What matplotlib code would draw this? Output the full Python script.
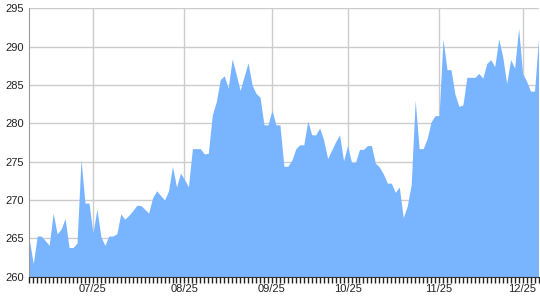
import numpy as np
import matplotlib
matplotlib.use('Agg')
import matplotlib.pyplot as plt

plt.rcParams['font.family'] = ['Liberation Sans', 'DejaVu Sans']

# values, one per trading day
price = [264.8, 261.7, 265.3, 265.3, 264.7, 264.1, 268.3, 265.6, 266.2, 267.6,
         263.8, 263.8, 264.4, 275.3, 269.6, 269.6, 265.7, 268.8, 265.2, 264.1,
         265.3, 265.3, 265.6, 268.2, 267.5, 268.0, 268.6, 269.3, 269.3, 268.8,
         268.3, 270.3, 271.2, 270.6, 270.0, 271.2, 274.4, 271.7, 273.5, 272.7,
         271.7, 276.7, 276.7, 276.7, 276.0, 276.1, 281.1, 282.8, 285.7, 286.2,
         284.6, 288.4, 286.4, 284.3, 286.1, 287.9, 285.0, 283.9, 283.4, 279.8,
         279.8, 281.7, 279.8, 279.8, 274.4, 274.4, 275.2, 276.7, 277.2, 277.2,
         280.3, 278.5, 278.5, 279.4, 277.8, 275.4, 276.5, 277.6, 278.5, 275.1,
         277.1, 274.9, 274.9, 276.6, 276.6, 277.1, 277.1, 274.8, 274.3, 273.4,
         272.2, 272.2, 271.0, 271.7, 267.7, 269.2, 272.0, 283.0, 276.7, 276.7,
         278.0, 280.2, 281.0, 281.0, 291.0, 287.0, 287.0, 283.8, 282.2, 282.4,
         286.0, 286.0, 286.0, 286.5, 285.9, 287.8, 288.3, 287.4, 291.0, 288.7,
         285.2, 288.3, 287.2, 292.4, 286.5, 285.5, 284.2, 284.2, 291.0]
month_idx = [16, 39, 61, 80, 103, 124]
month_labels = ['07/25', '08/25', '09/25', '10/25', '11/25', '12/25']
y_ticks = [260, 265, 270, 275, 280, 285, 290, 295]

x = np.arange(len(price))

fig = plt.figure(figsize=(5.4, 3.0), dpi=100)
ax = fig.add_axes([29.3/540, 23.3/300, 509.2/540, 268.4/300])

ax.fill_between(x, 260, price, color='#78b4ff', lw=0, zorder=2)

ax.set_xlim(0, len(price) - 1)
ax.set_ylim(260, 295)
ax.set_yticks(y_ticks)
ax.set_xticks(month_idx)
ax.set_xticklabels(month_labels)
ax.set_xticks(x, minor=True)

ax.grid(True, which='major', color='#cccccc', lw=1, zorder=0)
ax.set_axisbelow(True)

for s in ['top', 'right']:
    ax.spines[s].set_visible(False)
ax.spines['left'].set_color('#999999')
ax.spines['bottom'].set_color('#333333')

ax.tick_params(axis='y', length=0, pad=4, labelsize=8, labelcolor='#222222')
ax.tick_params(axis='x', which='both', length=4, width=1, color='#222222',
               direction='out', pad=1.5, labelsize=8, labelcolor='#222222')

fig.savefig('out.png', dpi=100)
